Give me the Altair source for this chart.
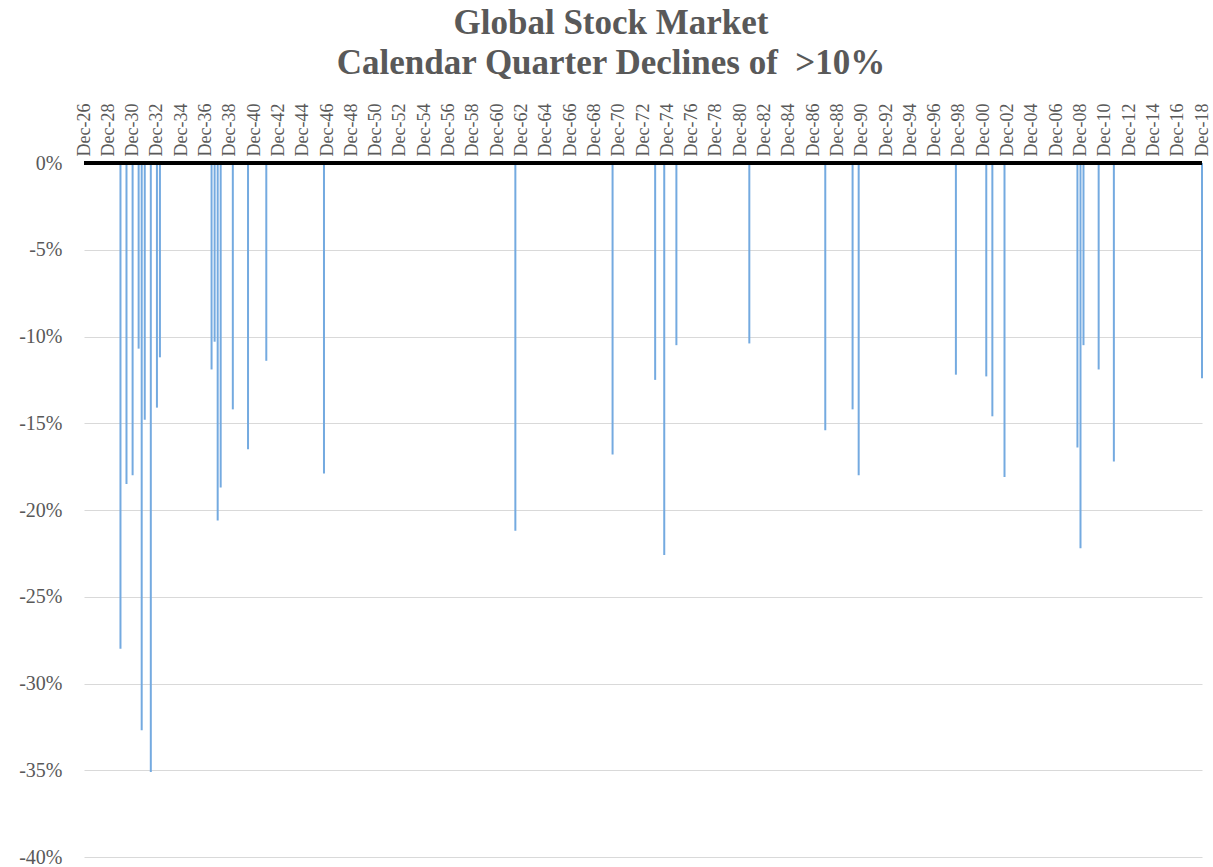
import altair as alt
import pandas as pd

# Quarter-end dates of calendar quarters with declines > 10%
quarters = [
    "1929-12-31", "1930-06-30", "1930-12-31", "1931-06-30", "1931-09-30",
    "1931-12-31", "1932-06-30", "1932-12-31", "1933-03-31", "1937-06-30",
    "1937-09-30", "1937-12-31", "1938-03-31", "1939-03-31", "1940-06-30",
    "1941-12-31", "1946-09-30", "1962-06-30", "1970-06-30", "1973-12-31",
    "1974-09-30", "1975-09-30", "1981-09-30", "1987-12-31", "1990-03-31",
    "1990-09-30", "1998-09-30", "2001-03-31", "2001-09-30", "2002-09-30",
    "2008-09-30", "2008-12-31", "2009-03-31", "2010-06-30", "2011-09-30",
    "2018-12-31",
]
declines = [
    -28.0, -18.5, -18.0, -10.7, -32.7,
    -14.8, -35.1, -14.1, -11.2, -11.9,
    -10.3, -20.6, -18.7, -14.2, -16.5,
    -11.4, -17.9, -21.2, -16.8, -12.5,
    -22.6, -10.5, -10.4, -15.4, -14.2,
    -18.0, -12.2, -12.3, -14.6, -18.1,
    -16.4, -22.2, -10.5, -11.9, -17.2,
    -12.4,
]
label_years = list(range(1926, 2019, 2))
y_ticks = [0, -5, -10, -15, -20, -25, -30, -35, -40]

df = pd.DataFrame({"quarter": quarters, "decline": declines})
zero_df = pd.DataFrame({"quarter": ["1926-12-31"], "end": ["2018-12-31"], "decline": [0]})

FONT = "Liberation Serif"
GRAY = "#595959"

x_scale = alt.Scale(type="utc", domain=[alt.DateTime(year=1926, month=12, date=31, utc=True),
                                        alt.DateTime(year=2018, month=12, date=31, utc=True)])
y_scale = alt.Scale(domain=[-40, 0], nice=False)

x_axis = alt.Axis(orient="top", title=None,
                  values=[alt.DateTime(year=y, month=12, date=31, utc=True) for y in label_years],
                  format="%b-%y", labelAngle=270, labelAlign="left", labelBaseline="middle",
                  labelFont=FONT, labelFontSize=18, labelColor=GRAY, labelPadding=7,
                  ticks=False, domain=False, grid=False, labelOverlap=False,
                  labelFlush=False, labelBound=False)
y_axis = alt.Axis(title=None, values=y_ticks, labelExpr="datum.value + '%'",
                  labelFont=FONT, labelFontSize=20, labelColor=GRAY, labelPadding=22,
                  ticks=False, domain=False, grid=True, gridColor="#d9d9d9",
                  gridWidth=1, labelOverlap=False)

bars = alt.Chart(df).mark_rule(strokeWidth=2, color="#74aae0").encode(
    x=alt.X("quarter:T", scale=x_scale, axis=x_axis),
    y=alt.Y("decline:Q", scale=y_scale, axis=y_axis),
    y2=alt.datum(0),
)

zero = alt.Chart(zero_df).mark_rule(strokeWidth=4, color="black").encode(
    x=alt.X("quarter:T", scale=x_scale, axis=x_axis),
    x2="end:T",
    y=alt.Y("decline:Q", scale=y_scale, axis=y_axis),
)

chart = alt.layer(bars, zero).properties(
    width=1118,
    height=694,
    autosize=alt.AutoSizeParams(type="none"),
    padding={"left": 84, "top": 163, "right": 11, "bottom": 10},
    title=alt.TitleParams(
        text=["Global Stock Market", "Calendar Quarter Declines of \u00a0>10%"],
        font=FONT, fontSize=35, fontWeight="bold", color=GRAY,
        anchor="middle", dx=-32, offset=22, lineHeight=40,
    ),
).configure_view(stroke=None).configure_axis(labelOverlap=False)

chart.save("out.html", embed_options={"renderer": "svg", "actions": False})
